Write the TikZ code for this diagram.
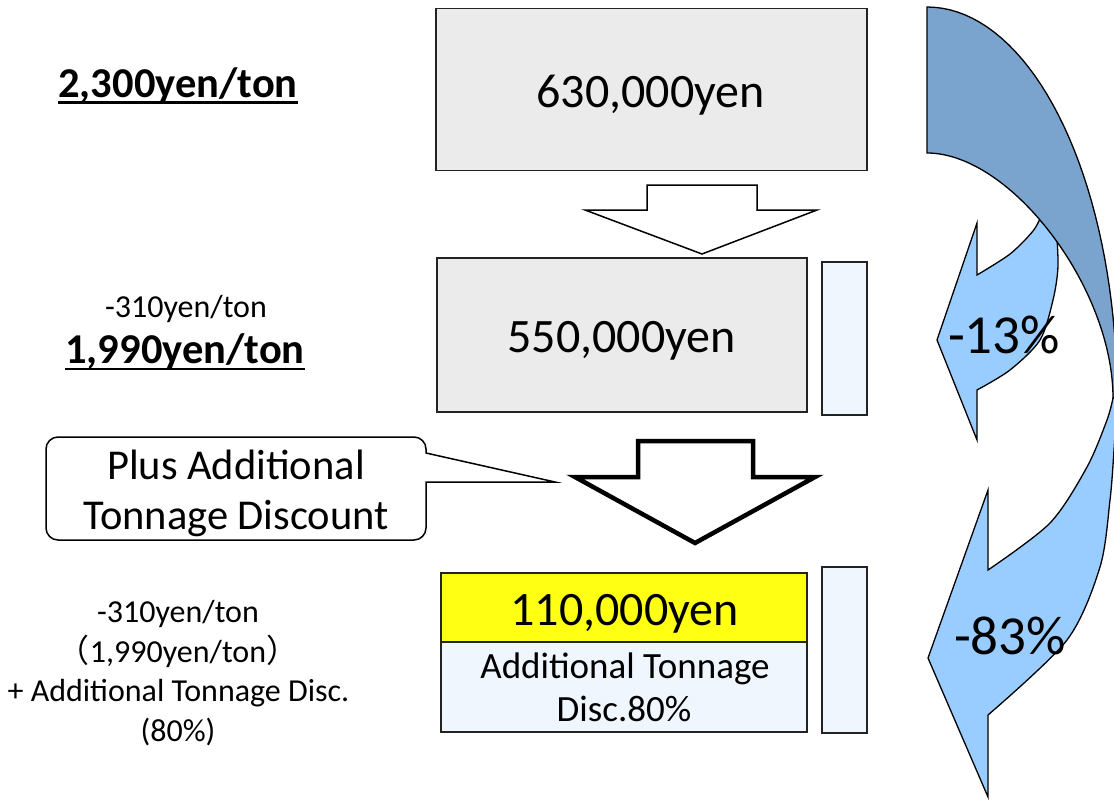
\documentclass[tikz,border=0pt]{standalone}
\usepackage{fontspec}
\setmainfont{Carlito}
\newfontfamily\cjkfont{Noto Sans CJK JP}
\newcommand\pxs[1]{\fontsize{#1}{#1}\selectfont}
\definecolor{boxgray}{RGB}{235,235,235}
\definecolor{paleblue}{RGB}{240,246,253}
\definecolor{arrowlight}{RGB}{153,204,255}
\definecolor{arrowdark}{RGB}{122,164,205}
\definecolor{edge}{RGB}{35,35,35}
\definecolor{hiyellow}{RGB}{255,255,20}
\begin{document}
\begin{tikzpicture}[x=1pt,y=-1pt,
  box/.style={draw=edge, line width=1.8pt, inner sep=0pt},
  txt/.style={anchor=base, inner sep=0pt, text=black},
  blockarrow/.style={draw=black, fill=white, line join=miter},
  curved/.style={draw=black, line width=1.3pt, line join=miter},
  uline/.style={line width=2.6pt}]
\useasboundingbox (0,0) rectangle (1114,800);

% ---------- curved arrows on the right ----------
\begin{scope}
\clip (0,0) rectangle (1114,800);
% -13% arrow
\path[curved, fill=arrowlight] (977,275)
  -- plot[smooth] coordinates {(977,275) (1010,254) (1033,231) (1043,213) (1050,205)}
  -- plot[smooth] coordinates {(1056,224) (1058,266) (1053,300) (1040,340) (1010,370) (977,390)}
  -- (977,440) -- (937,340) -- (977,223) -- cycle;
% -83% arrow, front face
\path[curved, fill=arrowlight] (988,570)
  -- plot[smooth] coordinates {(988,570) (1050,523) (1087,467) (1107,420) (1113,398)}
  -- (1117,396)
  -- plot[smooth] coordinates {(1117,400) (1114,450) (1110,500) (1100,567) (1067,640) (988,715)}
  -- (988,797) -- (928,658) -- (988,490) -- cycle;
% -83% arrow, back face
\path[curved, fill=arrowdark] (927,7)
  -- plot[domain=90:0, samples=40, variable=\t] ({927+190*cos(\t)},{396-389*sin(\t)})
  -- (1113,398) .. controls (1113,287.75) and (1010.7,153) .. (927,153) -- cycle;
\end{scope}
\node[txt, font=\pxs{55}] (p13) at (1004,353) {-13\%};
\node[txt, font=\pxs{55}] (p83) at (1010,654) {-83\%};

% ---------- boxes ----------
\node[box, fill=boxgray, minimum width=431pt, minimum height=162pt] (b1) at (651.5,89.5) {};
\node[txt, font=\pxs{48}] (t1) at (650.5,107) {630,000yen};

\node[box, fill=boxgray, minimum width=370pt, minimum height=154pt] (b2) at (622,335) {};
\node[txt, font=\pxs{48}] (t2) at (621.5,352) {550,000yen};
\node[box, fill=paleblue, minimum width=45pt, minimum height=153pt] (s2) at (844.5,338.5) {};

\node[box, fill=hiyellow, minimum width=366pt, minimum height=69pt] (b3) at (624,607.5) {};
\node[txt, font=\pxs{48}] (t3) at (624.5,625) {110,000yen};
\node[box, fill=paleblue, minimum width=366pt, minimum height=90pt] (b4) at (624,687) {};
\node[txt, font=\pxs{37}] (t4a) at (625,678) {Additional Tonnage};
\node[txt, font=\pxs{37}] (t4b) at (624,721) {Disc.80\%};
\node[box, fill=paleblue, minimum width=45pt, minimum height=166pt] (s3) at (844.5,650) {};

% ---------- block arrows ----------
\path[blockarrow, line width=1.5pt] (647,185) -- (757,185) -- (757,210) -- (817,210)
  -- (702,254) -- (585,210) -- (647,210) -- cycle;
\path[blockarrow, line width=4.5pt] (638,441) -- (753,441) -- (753,477) -- (815,477)
  -- (695,543) -- (575,477) -- (638,477) -- cycle;

% ---------- callout ----------
\draw[line width=1.5pt, draw=black, fill=white]
  (58,437) -- (414,437) .. controls (420.6,437) and (426,442.4) .. (426,449)
  -- (426,453) -- (555,482) -- (426,482) -- (426,528)
  .. controls (426,534.6) and (420.6,540) .. (414,540) -- (58,540)
  .. controls (51.4,540) and (46,534.6) .. (46,528) -- (46,449)
  .. controls (46,442.4) and (51.4,437) .. (58,437) -- cycle;
\node[txt, font=\pxs{42.5}] (c1) at (236,479) {Plus Additional};
\node[txt, font=\pxs{42.5}] (c2) at (236,529) {Tonnage Discount};

% ---------- left labels ----------
\node[txt, font=\bfseries\pxs{42.5}] (l1) at (178,97) {2,300yen/ton};
\draw[uline] ([yshift=-5.5pt]l1.base west) -- ([yshift=-5.5pt]l1.base east);

\node[txt, font=\pxs{32}] (l2) at (186,317) {-310yen/ton};
\node[txt, font=\bfseries\pxs{42.5}] (l3) at (185,363) {1,990yen/ton};
\draw[uline] ([yshift=-6pt]l3.base west) -- ([yshift=-6pt]l3.base east);

\node[txt, font=\pxs{32}] (l4) at (178,622) {-310yen/ton};
\node[txt, font=\pxs{32}] (l5) at (178,662) {{\cjkfont （}1,990yen/ton{\cjkfont ）}};
\node[txt, font=\pxs{32}] (l6) at (178.5,701) {+ Additional Tonnage Disc.};
\node[txt, font=\pxs{32}] (l7) at (178,741) {(80\%)};
\end{tikzpicture}
\end{document}
